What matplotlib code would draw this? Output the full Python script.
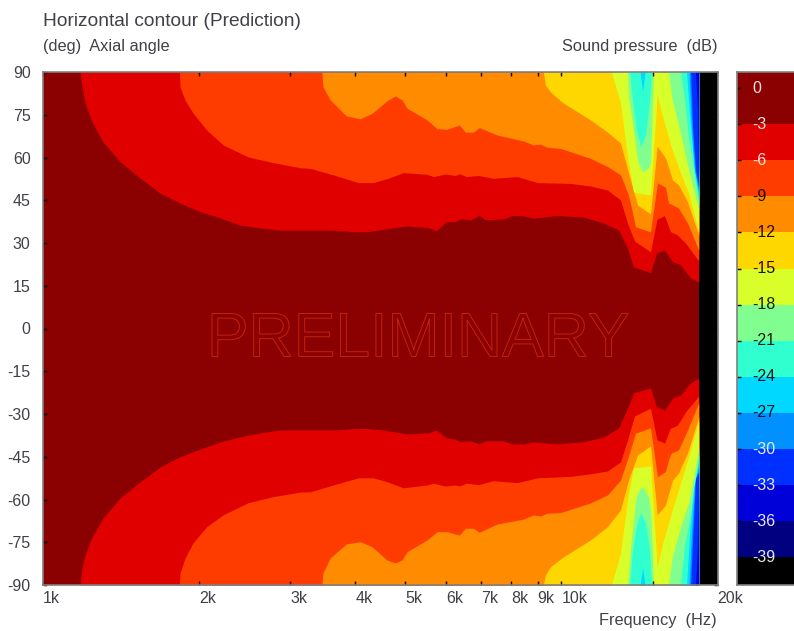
import matplotlib
matplotlib.use("Agg")
import matplotlib.pyplot as plt
import matplotlib.patheffects as pe
from matplotlib.ticker import NullLocator

# contour crossings: frequency (Hz), angle above / below axis (deg)
f_m3 = [1179, 1187, 1205, 1243, 1305, 1408, 1539, 1682, 1838, 2010, 2196, 2400, 2624, 2868, 3630, 4002, 4241, 4533,
        5044, 5534, 5736, 5998, 6243, 6383, 6673, 6944, 7131, 7727, 8042, 8445, 8829, 9824, 11027, 12054, 12885,
        13410, 13772, 14851, 15252, 15807, 16379, 16971, 17744, 18400]
up_m3 = [90, 85.8, 79.1, 72.6, 65.5, 58.5, 52.8, 47.5, 44, 41, 38.8, 36.3, 35.3, 34.5, 34.5, 33.9, 34, 34.8,
         36, 35.4, 34.3, 37.5, 37.5, 38.5, 38.1, 39.7, 38.1, 38.4, 39.6, 39.5, 38.7, 39.6, 39.1, 37, 34.6,
         28.2, 21.6, 19.6, 26.5, 27.5, 23.4, 22.3, 17.7, 16.3]
dn_m3 = [-90, -84.7, -79.5, -73.2, -66.5, -59.5, -53.8, -48.6, -45, -42.3, -39.8, -38, -36.6, -35.6, -35.6, -35.1, -35.1, -35.6,
         -37, -36.6, -35.6, -38.4, -38.8, -39.7, -39.4, -40.5, -39.4, -39.4, -40.5, -40.5, -39.8, -40.5, -39.7, -38.1, -34.9,
         -27.9, -22.6, -20.8, -27.4, -28.6, -24.4, -23.3, -19.1, -17.4]

f_m6 = [1833, 1838, 1880, 1947, 2070, 2226, 2488, 2780, 3134, 3277, 3630, 4056, 4336, 4613, 4954, 5510, 5662, 5970,
        6243, 6355, 6556, 6915, 7391, 8223, 8987, 10408, 11376, 12270, 13000, 13410, 13835, 14851, 15285, 15807,
        16228, 16746, 17351, 18400]
up_m6 = [90, 84.8, 80.1, 75.6, 69.6, 64.4, 60.2, 58.2, 56.4, 56.2, 53.9, 51.2, 51.2, 52.6, 54.7, 54.1, 53.3, 54.2,
         53.7, 54.3, 53.3, 53.7, 52.7, 53.3, 51.2, 50.9, 50, 48.6, 45.1, 37, 30.7, 26.9, 38.4, 39.6,
         34, 32.8, 30, 23.7]
dn_m6 = [-90, -85.8, -80.5, -75.2, -69.5, -65.4, -61.1, -59, -57.4, -57.3, -54.9, -52.4, -52.4, -53.8, -55.9, -54.9, -54.3, -55.3,
         -54.9, -55.3, -54.3, -54.8, -53.4, -54.1, -52.4, -51.9, -51, -50, -46.8, -39.1, -30.7, -28, -39.1, -40.2,
         -35, -33.9, -29.3, -23.7]

f_m9 = [3451, 3467, 3581, 3846, 4093, 4312, 4607, 4781, 4926, 5037, 5505, 5755, 6016, 6355, 6527, 6762, 6944, 7514,
        8445, 8829, 9107, 9384, 9956, 11376, 12270, 13000, 13472, 13900, 14851, 15318, 15877, 16091, 16286, 16821,
        17508, 18400]
up_m9 = [90, 84.8, 80.2, 74.6, 73.6, 75.5, 79.9, 81.6, 80.2, 77.3, 73.2, 70.1, 69.9, 71.4, 68.9, 68.9, 70.5, 67.9,
         65.8, 64.4, 64.7, 63.6, 63.2, 59.7, 56.8, 53.9, 46.8, 35.7, 33.9, 51.1, 49.6, 44, 43.6, 42.3,
         37, 27.5]
dn_m9 = [-90, -85.8, -80.5, -75.6, -74.8, -76.6, -81.2, -82.3, -81.2, -78.3, -74.2, -71.3, -71.3, -72.5, -70.1, -70.1, -71.5, -68.6,
         -66.9, -65.4, -65.8, -64.8, -64.6, -61.2, -58.4, -53.2, -44.7, -36.7, -34.9, -52, -50.2, -46.1, -43.7, -42.6,
         -35.6, -26.1]

f_m12 = [9232, 9313, 9524, 10089, 11376, 12270, 13000, 13472, 14020, 14851, 15300, 15877, 16379, 16821, 17508, 18400]
up_m12 = [90, 85.4, 83, 79.1, 73.2, 68.9, 65.1, 54.6, 43.3, 40.2, 64, 59.8, 52.1, 50.4, 44.4, 32.8]
dn_m12 = [-90, -86.5, -83.6, -80.1, -74.2, -69.5, -63.7, -53.2, -44.4, -41.2, -65.4, -61.9, -53.2, -50.7, -43.7, -31.1]

f_m15 = [12490, 13000, 13410, 13772, 14851, 15300, 15736, 16358, 16971, 17589, 18400]
up_m15 = [90, 79.1, 60.2, 47.9, 46.8, 81.9, 73.2, 62.6, 54.6, 47.5, 33.9]
dn_m15 = [-90, -78.8, -60.2, -48.9, -48.2, -83.6, -74.2, -63.7, -54.2, -45.1, -32.8]

f_m18 = [13410, 13472, 13590, 13900, 14020, 14320, 14720, 14851, 14965, 15050, 16091, 16358, 16971, 17589, 18400]
up_m18 = [90, 81.2, 76.7, 64.4, 59.1, 54.9, 56.3, 58, 76.7, 90, 90, 80.2, 68.6, 55.6, 41.6]
dn_m18 = [-90, -87, -76.7, -60.2, -57.7, -55.3, -59.1, -63.7, -76.7, -90, -90, -80.2, -69.6, -61.2, -41.9]

f_m21 = [13530, 13710, 13960, 14210, 14530, 14790, 14925, 16971, 17274, 17589, 17980, 18400]
up_m21 = [90, 80.2, 69.6, 63.7, 67.9, 80.2, 90, 90, 80.2, 67.2, 55.6, 43.3]
dn_m21 = [-90, -77.7, -68.9, -64.6, -68.2, -77.7, -90, -90, -76, -68.9, -56.7, -44.4]

f_m24 = [14180, 14340, 14500, 17430, 17690, 18000, 18400]
up_m24 = [90, 83.1, 90, 90, 73.2, 58.1, 45.8]
dn_m24 = [-90, -84, -90, -90, -70.7, -55.6, -46.1]

f_m27 = [17630, 17820, 18060, 18400]
up_m27 = [90, 70.7, 55.6, 47.9]
dn_m27 = [-90, -72.5, -54.9, -48.3]

f_m30 = [17744, 17900, 18142, 18400]
up_m30 = [90, 70.7, 55.6, 49.6]
dn_m30 = [-90, -74.2, -52.5, -50.4]

f_m33 = [18142, 18306, 18400]
up_m33 = [90, 76.7, 53.9]
dn_m33 = [-90, -76, -56.7]

freq_max = 18400

contours = [
    (f_m3, up_m3, dn_m3, "#e00000"),
    (f_m6, up_m6, dn_m6, "#ff3c00"),
    (f_m9, up_m9, dn_m9, "#ff8c00"),
    (f_m12, up_m12, dn_m12, "#ffd700"),
    (f_m15, up_m15, dn_m15, "#d8ff2a"),
    (f_m18, up_m18, dn_m18, "#80ff90"),
    (f_m21, up_m21, dn_m21, "#30ffd0"),
    (f_m24, up_m24, dn_m24, "#00d8ff"),
    (f_m27, up_m27, dn_m27, "#0090ff"),
    (f_m30, up_m30, dn_m30, "#0030ff"),
    (f_m33, up_m33, dn_m33, "#0000d8"),
]

freq_ticks = [1000, 2000, 3000, 4000, 5000, 6000, 7000, 8000, 9000, 10000, 15000, 20000]
freq_labels = ["1k", "2k", "3k", "4k", "5k", "6k", "7k", "8k", "9k", "10k", "", "20k"]
freq_tick_colors = ["#808080", "#7f8c9c", "#7f8c9c", "#7f8c9c", "#70c890", "#70c890", "#70c890", "#70c890",
                    "#70c890", "#808080", "#ff60ff", "#808080"]
angle_ticks = [90, 75, 60, 45, 30, 15, 0, -15, -30, -45, -60, -75, -90]

levels = [0, -3, -6, -9, -12, -15, -18, -21, -24, -27, -30, -33, -36, -39]
level_colors = ["#8b0000", "#e00000", "#ff3c00", "#ff8c00", "#ffd700", "#d8ff2a", "#80ff90", "#30ffd0",
                "#00d8ff", "#0090ff", "#0030ff", "#0000d8", "#000080", "#000000"]
level_text = ["#f4e0e0", "#f8e0e0", "#ffe8e0", "#201000", "#201000", "#201000", "#102010", "#102010",
              "#001020", "#001020", "#e8e8ff", "#e8e8ff", "#e8e8ff", "#e8e8e8"]
level_tick_colors = ["#208080", "#208080", "#808080", "#804080", "#8060a0", "#8060a0", "#8060a0", "#208080",
                     "#a04040", "#b07040", "#c02040", "#808080", "#808080", "#808020"]

plt.rcParams["font.family"] = ["Liberation Sans", "DejaVu Sans"]
W, H = 794, 631
TEXT = "#404048"
EDGE = "#808080"
LABEL_SIZE = 11.5
CAPTION_SIZE = 11.8


def px(x, y):
    return x / W, 1 - y / H


fig = plt.figure(figsize=(W / 100, H / 100), dpi=100, facecolor="white")
ax = fig.add_axes([43 / W, 1 - 585 / H, (717.5 - 43) / W, (585 - 72) / H], facecolor="black")

ax.set_xscale("log")
ax.fill_between([1000, freq_max], -90, 90, color="#8b0000", lw=0)
for freqs, upper, lower, col in contours:
    ax.fill_between(freqs, upper, 90, color=col, lw=0)
    ax.fill_between(freqs, -90, lower, color=col, lw=0)

ax.set_xlim(1000, 20000)
ax.set_ylim(-90, 90)
ax.xaxis.set_minor_locator(NullLocator())
ax.set_xticks(freq_ticks, freq_labels, ha="left")
ax.set_yticks(angle_ticks, [str(a) for a in angle_ticks])
ax.tick_params(axis="both", direction="in", length=3, width=1, top=True, right=True,
               labelsize=LABEL_SIZE, labelcolor=TEXT)
ax.tick_params(axis="x", pad=4)
ax.tick_params(axis="y", pad=9)
for tick, col in zip(ax.xaxis.get_major_ticks(), freq_tick_colors):
    tick.tick1line.set_color(col)
    tick.tick2line.set_color(col)
for i, tick in enumerate(ax.yaxis.get_major_ticks()):
    tick.tick1line.set_color("#e07070" if i % 2 else "#208080")
    tick.tick2line.set_color("#808080")
for s in ax.spines.values():
    s.set_color(EDGE)
    s.set_linewidth(1.2)

wm_x, wm_y = px(418, 340)
fig.text(wm_x, wm_y, "PRELIMINARY", fontsize=45, ha="center", va="center", color="#8b0000", zorder=5,
         path_effects=[pe.Stroke(linewidth=0.7, foreground="#c0240e")])

# colour key on the right, runs off the edge of the picture
cax = fig.add_axes([737 / W, 1 - 585 / H, (W - 737) / W, (585 - 72) / H], facecolor="black")
top = 1.33
bottom = -41.3
edges = [top] + levels[1:] + [bottom]
for i, col in enumerate(level_colors):
    cax.fill_between([0, 1], edges[i + 1], edges[i], color=col, lw=0)
cax.set_xlim(0, 1)
cax.set_ylim(bottom, top)
cax.set_xticks([])
cax.set_yticks(levels)
cax.tick_params(axis="y", direction="in", length=3, width=1, labelleft=False)
for tick, col in zip(cax.yaxis.get_major_ticks(), level_tick_colors):
    tick.tick1line.set_color(col)
for lev, col in zip(levels, level_text):
    cax.text(0.27, lev, str(lev), color=col, fontsize=LABEL_SIZE, va="center", ha="left")
for name, s in cax.spines.items():
    s.set_color(EDGE)
    s.set_linewidth(1.2)
cax.spines["right"].set_visible(False)

fig.text(*px(43, 22), "Horizontal contour (Prediction)", fontsize=13.8, color=TEXT, va="center")
fig.text(*px(43, 46), "(deg)  Axial angle", fontsize=CAPTION_SIZE, color=TEXT, va="center")
fig.text(*px(717, 46), "Sound pressure  (dB)", fontsize=CAPTION_SIZE, color=TEXT, va="center", ha="right")
fig.text(*px(717, 620), "Frequency  (Hz)", fontsize=CAPTION_SIZE, color=TEXT, va="center", ha="right")

fig.savefig("out.png", dpi=100)
